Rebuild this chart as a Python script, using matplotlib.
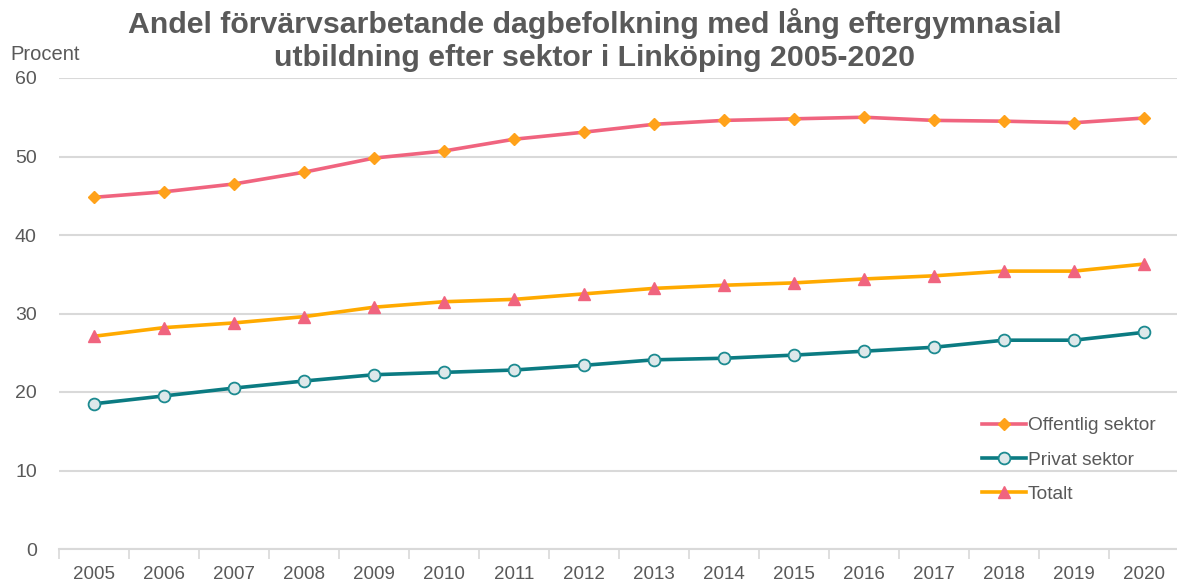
import matplotlib
matplotlib.use("Agg")
import matplotlib.pyplot as plt
from matplotlib.ticker import FixedLocator

years = ["2005", "2006", "2007", "2008", "2009", "2010", "2011", "2012",
         "2013", "2014", "2015", "2016", "2017", "2018", "2019", "2020"]
offentlig = [44.8, 45.5, 46.5, 48.0, 49.8, 50.7, 52.2, 53.1,
             54.1, 54.6, 54.8, 55.0, 54.6, 54.5, 54.3, 54.9]
privat = [18.5, 19.5, 20.5, 21.4, 22.2, 22.5, 22.8, 23.4,
          24.1, 24.3, 24.7, 25.2, 25.7, 26.6, 26.6, 27.6]
totalt = [27.1, 28.2, 28.8, 29.6, 30.8, 31.5, 31.8, 32.5,
          33.2, 33.6, 33.9, 34.4, 34.8, 35.4, 35.4, 36.3]

plt.rcParams['font.family'] = ['Liberation Sans', 'DejaVu Sans']
gray = '#595959'

fig = plt.figure(figsize=(11.77, 5.82), dpi=100)
ax = fig.add_axes([59/1177, 1-549/582, 1120/1177, 471/582])

x = list(range(len(years)))
ax.plot(x, offentlig, color='#F0647F', lw=2.6, marker='D', markersize=6.5,
        markerfacecolor='#FFA21A', markeredgecolor='#FFA21A', label='Offentlig sektor', zorder=3)
ax.plot(x, privat, color='#0B7B82', lw=2.6, marker='o', markersize=8.5,
        markerfacecolor='#DDE8EA', markeredgecolor='#1C8A90', markeredgewidth=1.3,
        label='Privat sektor', zorder=3)
ax.plot(x, totalt, color='#FFAA00', lw=2.6, marker='^', markersize=9,
        markerfacecolor='#F0647F', markeredgecolor='#F0647F', label='Totalt', zorder=3)

ax.set_xlim(-0.5, len(years) - 0.5)
ax.set_ylim(0, 60)
ax.set_yticks(range(0, 61, 10))
ax.yaxis.grid(True, color='#D9D9D9', lw=1.5)
ax.set_axisbelow(True)
for s in ['top', 'right', 'left']:
    ax.spines[s].set_visible(False)
ax.spines['bottom'].set_color('#D9D9D9')
ax.spines['bottom'].set_linewidth(1.5)

ax.set_xticks(x)
ax.set_xticklabels(years)
ax.xaxis.set_minor_locator(FixedLocator([i - 0.5 for i in range(len(years) + 1)]))
ax.tick_params(axis='x', which='major', length=0, pad=12, labelsize=13.5, labelcolor=gray)
ax.tick_params(axis='x', which='minor', length=7, width=1.2, color='#D9D9D9', direction='out')
ax.tick_params(axis='y', length=0, pad=16, labelsize=14, labelcolor=gray)

fig.text(10/1177, 1-60/582, 'Procent', fontsize=14.5, color=gray, ha='left', va='baseline')
fig.text(595/1177, 1-40/582,
         'Andel förvärvsarbetande dagbefolkning med lång eftergymnasial\nutbildning efter sektor i Linköping 2005-2020',
         fontsize=21.8, fontweight='bold', color=gray, ha='center', va='center', linespacing=1.25)

leg = ax.legend(loc='center left', bbox_to_anchor=((982-59)/1120, (549-460)/471),
                frameon=False, fontsize=13.8, handlelength=2.3, handletextpad=0.1,
                labelspacing=0.88, borderpad=0, borderaxespad=0)
for t in leg.get_texts():
    t.set_color(gray)

fig.savefig('out.png', dpi=100)
